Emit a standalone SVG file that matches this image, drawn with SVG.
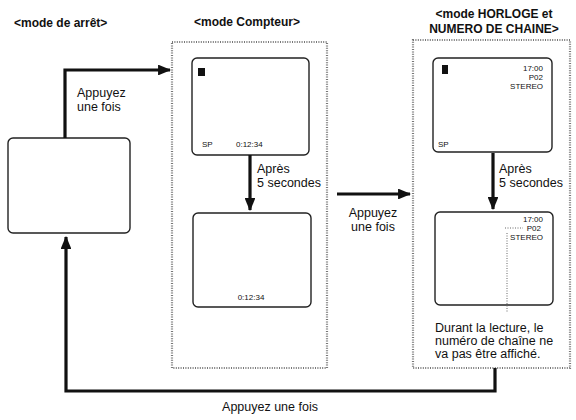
<svg xmlns="http://www.w3.org/2000/svg" width="576" height="420" viewBox="0 0 576 420">
<style>
.bg{fill:#ffffff}
.scr{fill:#ffffff;stroke:#222;stroke-width:1.4}
.dot{fill:none;stroke:#777;stroke-width:2.2;stroke-dasharray:1 1.4}
.thin{fill:none;stroke:#666;stroke-width:1;stroke-dasharray:1 1.5}
.wire{fill:none;stroke:#111;stroke-width:3.2}
.title{font-family:"Liberation Sans",Arial,sans-serif;font-weight:bold;font-size:12px;fill:#111}
.lbl{font-family:"Liberation Sans",Arial,sans-serif;font-size:12.5px;fill:#111}
.osd{font-family:"Liberation Sans",Arial,sans-serif;font-size:8px;fill:#111}
.note{font-family:"Liberation Sans",Arial,sans-serif;font-size:12.5px;fill:#111}
</style>
<defs>
<marker id="ah" viewBox="0 0 12 10" refX="11" refY="5" markerWidth="4.2" markerHeight="3.4" markerUnits="strokeWidth" orient="auto">
<path d="M0,0 L12,5 L0,10 Z" fill="#111"/>
</marker>
</defs>
<rect class="bg" x="0" y="0" width="576" height="420"/>

<g id="titles">
<text class="title" x="14" y="27">&lt;mode de arrêt&gt;</text>
<text class="title" x="247" y="26" text-anchor="middle">&lt;mode Compteur&gt;</text>
<text class="title" x="494" y="18" text-anchor="middle">&lt;mode HORLOGE et</text>
<text class="title" x="494" y="33" text-anchor="middle">NUMERO DE CHAINE&gt;</text>
</g>

<g id="stop-mode">
<rect class="scr" x="8" y="138" width="122" height="95" rx="5"/>
</g>

<g id="counter-mode">
<rect class="dot" x="172" y="42" width="155" height="326"/>
<g id="counter-screen-1">
<rect class="scr" x="192" y="58" width="117" height="97" rx="5"/>
<rect x="198" y="68" width="7" height="8" fill="#111"/>
<text class="osd" x="202" y="147">SP</text>
<text class="osd" x="236" y="147">0:12:34</text>
</g>
<g id="counter-screen-2">
<rect class="scr" x="193" y="213" width="118" height="94" rx="5"/>
<text class="osd" x="251" y="300" text-anchor="middle">0:12:34</text>
</g>
<text class="lbl" x="257" y="173">Après</text>
<text class="lbl" x="257" y="187">5 secondes</text>
</g>

<g id="clock-mode">
<rect class="dot" x="413" y="40" width="157" height="328"/>
<g id="clock-screen-1">
<rect class="scr" x="433" y="58" width="119" height="94" rx="5"/>
<rect x="442" y="65" width="6" height="9" fill="#111"/>
<text class="osd" x="543" y="71" text-anchor="end">17:00</text>
<text class="osd" x="543" y="80" text-anchor="end">P02</text>
<text class="osd" x="543" y="89" text-anchor="end">STEREO</text>
<text class="osd" x="438" y="147">SP</text>
</g>
<g id="clock-screen-2">
<rect class="scr" x="435" y="212" width="118" height="93" rx="5"/>
<text class="osd" x="543" y="222" text-anchor="end">17:00</text>
<text class="osd" x="541" y="231" text-anchor="end">P02</text>
<text class="osd" x="543" y="240" text-anchor="end">STEREO</text>
<path class="thin" d="M505,228 H523 M507,233 V312"/>
</g>
<text class="lbl" x="499" y="173">Après</text>
<text class="lbl" x="499" y="187">5 secondes</text>
<text class="note" x="435" y="332">Durant la lecture, le</text>
<text class="note" x="435" y="345">numéro de chaîne ne</text>
<text class="note" x="435" y="358">va pas être affiché.</text>
</g>

<g id="connectors">
<path class="wire" d="M65,138 V70 H170" marker-end="url(#ah)"/>
<path class="wire" d="M250,155 V210" marker-end="url(#ah)"/>
<path class="wire" d="M337,194 H410" marker-end="url(#ah)"/>
<path class="wire" d="M493,153 V209" marker-end="url(#ah)"/>
<path class="wire" d="M495,368 V391 H66 V237" marker-end="url(#ah)"/>
<text class="lbl" x="77" y="97">Appuyez</text>
<text class="lbl" x="77" y="111">une fois</text>
<text class="lbl" x="373" y="217" text-anchor="middle">Appuyez</text>
<text class="lbl" x="373" y="231" text-anchor="middle">une fois</text>
<text class="lbl" x="270" y="411" text-anchor="middle">Appuyez une fois</text>
</g>
</svg>
